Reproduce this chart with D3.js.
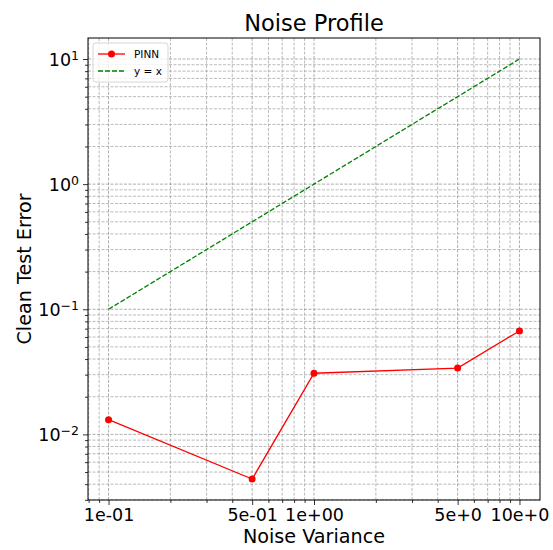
<!DOCTYPE html>
<html>
<head>
<meta charset="utf-8">
<script src="https://cdn.jsdelivr.net/npm/d3@7"></script>
<style>
  body { margin: 0; background: #fff; }
  text { font-family: "DejaVu Sans", sans-serif; }
</style>
</head>
<body>
<div id="chart"></div>
<script>
// data
const noise_variance = [0.1, 0.5, 1, 5, 10];
const pinn_error = [0.0131, 0.0044, 0.0308, 0.0339, 0.0671];
const identity_line = [0.1, 10];
const x_tick_values = [0.1, 0.5, 1, 5, 10];
const x_tick_labels = ['1e-01', '5e-01', '1e+00', '5e+0', '10e+0'];
const y_tick_values = [0.01, 0.1, 1, 10];
const y_tick_exponents = ['\u22122', '\u22121', '0', '1'];

var width = 553, height = 550;
var margin = {top: 38, right: 13, bottom: 50, left: 88};
var plot_w = width - margin.left - margin.right,
    plot_h = height - margin.top - margin.bottom;

let svg = d3.select('#chart').append('svg')
    .attr('width', width)
    .attr('height', height);

// log domains with matplotlib-like 5% padding (in log space)
function padded(lo, hi) {
    let a = Math.log10(lo), b = Math.log10(hi), m = (b - a) * 0.05;
    return [Math.pow(10, a - m), Math.pow(10, b + m)];
}
let x = d3.scaleLog().domain(padded(d3.min(noise_variance), d3.max(noise_variance))).range([0, plot_w]);
let y = d3.scaleLog().domain(padded(d3.min(pinn_error), d3.max(identity_line))).range([plot_h, 0]);

let g = svg.append('g').attr('transform', 'translate(' + margin.left + ',' + margin.top + ')');

// minor tick positions for a log scale
function minor_ticks(scale) {
    let d = scale.domain(), out = [];
    for (let e = Math.floor(Math.log10(d[0])); e <= Math.ceil(Math.log10(d[1])); e++) {
        for (let k = 2; k <= 9; k++) {
            let v = k * Math.pow(10, e);
            if (v >= d[0] && v <= d[1]) out.push(v);
        }
    }
    return out;
}
let x_minor = minor_ticks(x).filter(v => x_tick_values.indexOf(v) < 0);
let y_minor = minor_ticks(y);

//////////////////// grid ////////////////////
let grid = g.append('g').attr('class', 'grid');
grid.selectAll('.vminor').data(x_minor).enter().append('line')
    .attr('x1', d => x(d)).attr('x2', d => x(d)).attr('y1', 0).attr('y2', plot_h)
    .attr('stroke', '#a8a8a8').attr('stroke-width', 0.8).attr('stroke-dasharray', '3,1.5');
grid.selectAll('.hminor').data(y_minor).enter().append('line')
    .attr('y1', d => y(d)).attr('y2', d => y(d)).attr('x1', 0).attr('x2', plot_w)
    .attr('stroke', '#a8a8a8').attr('stroke-width', 0.8).attr('stroke-dasharray', '3,1.5');
grid.selectAll('.vmajor').data(x_tick_values).enter().append('line')
    .attr('x1', d => x(d)).attr('x2', d => x(d)).attr('y1', 0).attr('y2', plot_h)
    .attr('stroke', '#999').attr('stroke-width', 0.8).attr('stroke-dasharray', '3,1.5');
grid.selectAll('.hmajor').data(y_tick_values).enter().append('line')
    .attr('y1', d => y(d)).attr('y2', d => y(d)).attr('x1', 0).attr('x2', plot_w)
    .attr('stroke', '#999').attr('stroke-width', 0.8).attr('stroke-dasharray', '3,1.5');

//////////////////// axes ////////////////////
let x_axis = d3.axisBottom(x).tickValues(x_tick_values)
    .tickFormat((d, i) => x_tick_labels[i]).tickSize(5).tickPadding(4);
let xg = g.append('g').attr('transform', 'translate(0,' + plot_h + ')').call(x_axis);
xg.select('.domain').remove();
xg.selectAll('text').attr('font-size', '17.5px').attr('fill', '#000');

let x_minor_axis = d3.axisBottom(x).tickValues(x_minor).tickFormat('').tickSize(3);
let xmg = g.append('g').attr('transform', 'translate(0,' + plot_h + ')').call(x_minor_axis);
xmg.select('.domain').remove();

let y_axis = d3.axisLeft(y).tickValues(y_tick_values).tickFormat('').tickSize(5);
let yg = g.append('g').call(y_axis);
yg.select('.domain').remove();
yg.selectAll('.tick').append('text')
    .attr('x', -9).attr('dy', '0.35em').attr('text-anchor', 'end')
    .attr('font-size', '17.5px').attr('fill', '#000')
    .each(function (d, i) {
        let t = d3.select(this);
        t.append('tspan').text('10');
        t.append('tspan').attr('dy', '-0.45em').attr('font-size', '12.5px').text(y_tick_exponents[i]);
    });
let y_minor_axis = d3.axisLeft(y).tickValues(y_minor).tickFormat('').tickSize(3);
let ymg = g.append('g').call(y_minor_axis);
ymg.select('.domain').remove();

g.selectAll('.tick line').attr('stroke', '#000').attr('stroke-width', 0.8);

//////////////////// lines ////////////////////
let line = d3.line().x(d => x(d[0])).y(d => y(d[1]));

g.append('path')
    .datum(identity_line.map(v => [v, v]))
    .attr('d', line)
    .attr('fill', 'none').attr('stroke', 'green').attr('stroke-width', 1.3)
    .attr('stroke-dasharray', '5,2');

g.append('path')
    .datum(noise_variance.map((v, i) => [v, pinn_error[i]]))
    .attr('d', line)
    .attr('fill', 'none').attr('stroke', 'red').attr('stroke-width', 1.3);

g.selectAll('.pt').data(noise_variance).enter().append('circle')
    .attr('cx', d => x(d)).attr('cy', (d, i) => y(pinn_error[i]))
    .attr('r', 3.5).attr('fill', 'red');

// frame
g.append('rect').attr('width', plot_w).attr('height', plot_h)
    .attr('fill', 'none').attr('stroke', '#000').attr('stroke-width', 1);

//////////////////// legend ////////////////////
let lg = g.append('g').attr('transform', 'translate(5,5)');
lg.append('rect').attr('width', 75).attr('height', 39).attr('rx', 3)
    .attr('fill', 'white').attr('fill-opacity', 0.8).attr('stroke', '#ccc').attr('stroke-width', 0.8);
lg.append('line').attr('x1', 5).attr('x2', 32).attr('y1', 11).attr('y2', 11)
    .attr('stroke', 'red').attr('stroke-width', 1.3);
lg.append('circle').attr('cx', 18.5).attr('cy', 11).attr('r', 3.5).attr('fill', 'red');
lg.append('text').attr('x', 41).attr('y', 11).attr('dy', '0.35em').attr('font-size', '10.5px').text('PINN');
lg.append('line').attr('x1', 5).attr('x2', 32).attr('y1', 28).attr('y2', 28)
    .attr('stroke', 'green').attr('stroke-width', 1.3).attr('stroke-dasharray', '5,2');
lg.append('text').attr('x', 41).attr('y', 28).attr('dy', '0.35em').attr('font-size', '10.5px').text('y = x');

//////////////////// titles ////////////////////
svg.append('text').attr('x', margin.left + plot_w / 2).attr('y', 31)
    .attr('text-anchor', 'middle').attr('font-size', '22.5px').text('Noise Profile');
svg.append('text').attr('x', margin.left + plot_w / 2).attr('y', 543)
    .attr('text-anchor', 'middle').attr('font-size', '19.2px').text('Noise Variance');
svg.append('text').attr('transform', 'translate(31,' + (margin.top + plot_h / 2) + ') rotate(-90)')
    .attr('text-anchor', 'middle').attr('font-size', '19.2px').text('Clean Test Error');
</script>
</body>
</html>
